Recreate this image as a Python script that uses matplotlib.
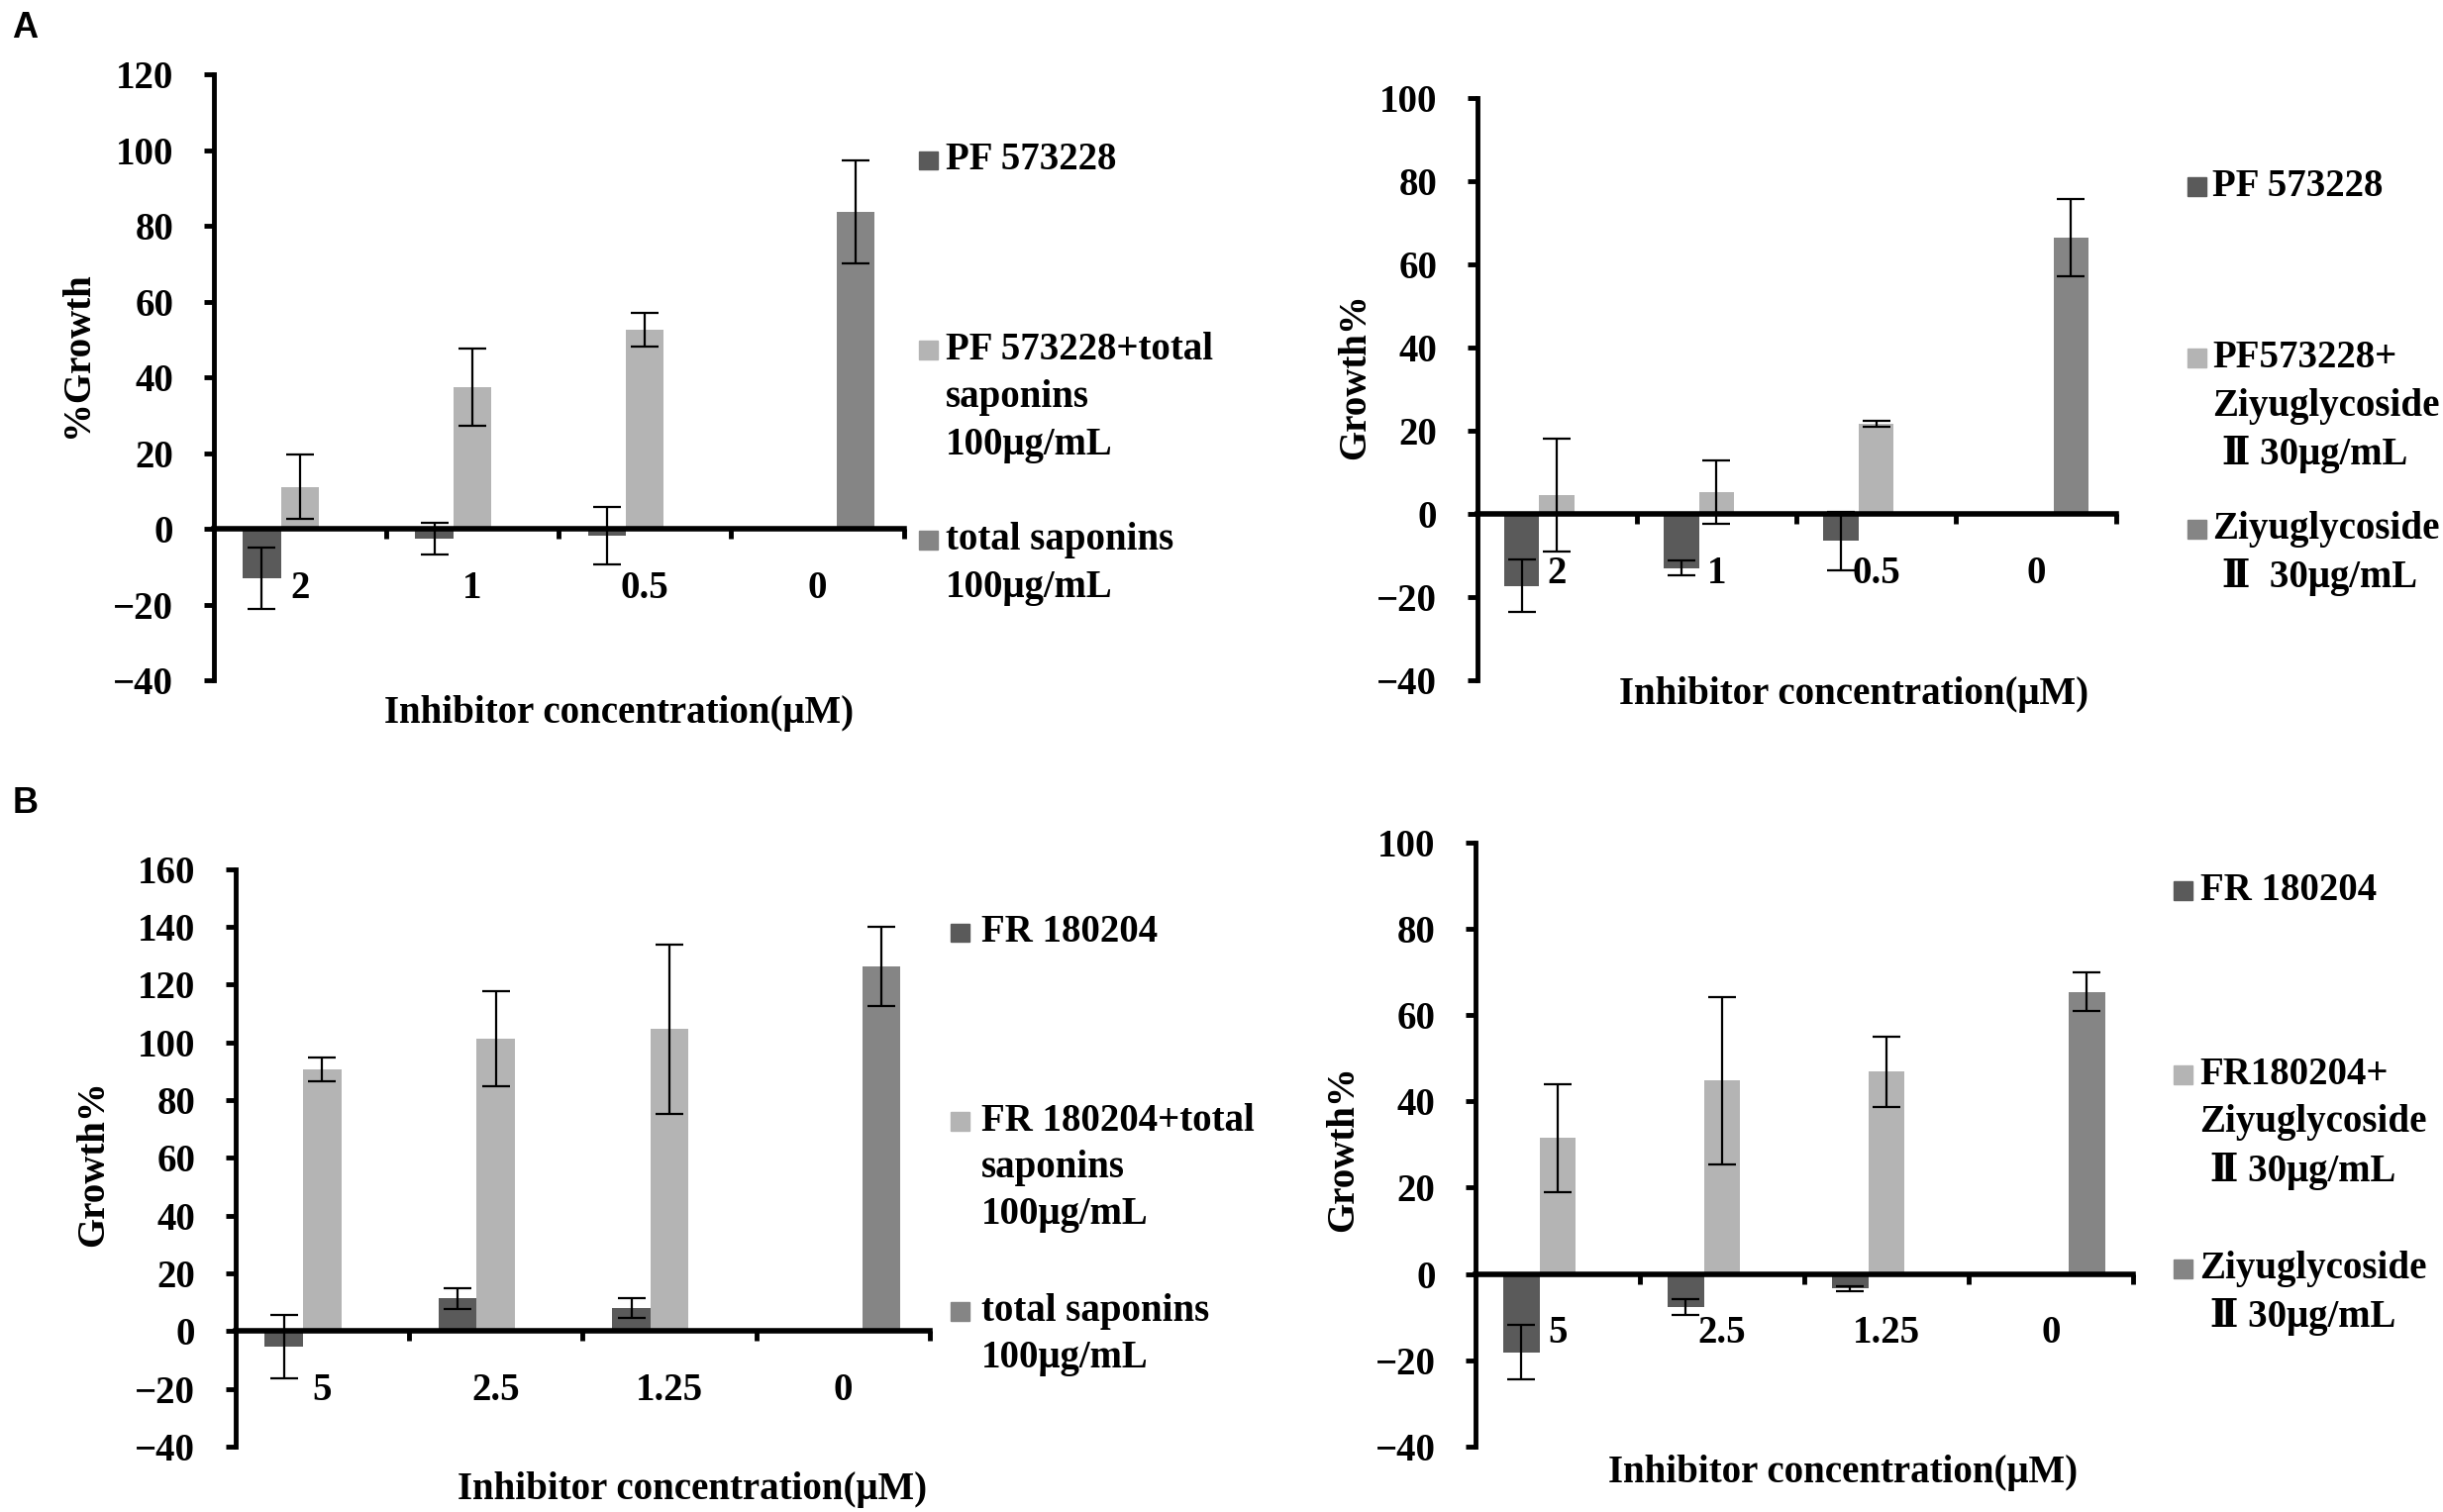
import numpy as np
import matplotlib.pyplot as plt
from matplotlib.patches import Rectangle

plt.rcParams['font.family'] = ['Liberation Serif', 'DejaVu Serif']
plt.rcParams['font.weight'] = 'bold'
plt.rcParams['font.size'] = 28

# layout was measured on a 1568 x 971 copy of the reference
W, H = 1568.0, 971.0

c_dark = '#5a5a5a'
c_light = '#b4b4b4'
c_mid = '#858585'

# ---- panel A, left (PF 573228 + total saponins)
a1_cats = ['2', '1', '0.5', '0']
a1_inh = [-13.0, -2.5, -1.8, np.nan]
a1_inh_err = [8.0, 4.2, 7.6, np.nan]
a1_mix = [11.1, 37.5, 52.6, np.nan]
a1_mix_err = [8.5, 10.2, 4.4, np.nan]
a1_drug = [np.nan, np.nan, np.nan, 83.8]
a1_drug_err = [np.nan, np.nan, np.nan, 13.5]

# ---- panel A, right (PF 573228 + Ziyuglycoside II)
a2_cats = ['2', '1', '0.5', '0']
a2_inh = [-17.3, -13.0, -6.5, np.nan]
a2_inh_err = [6.3, 1.8, 7.0, np.nan]
a2_mix = [4.6, 5.2, 21.8, np.nan]
a2_mix_err = [13.5, 7.6, 0.7, np.nan]
a2_drug = [np.nan, np.nan, np.nan, 66.4]
a2_drug_err = [np.nan, np.nan, np.nan, 9.3]

# ---- panel B, left (FR 180204 + total saponins)
b1_cats = ['5', '2.5', '1.25', '0']
b1_inh = [-5.5, 11.4, 7.9, np.nan]
b1_inh_err = [11.0, 3.6, 3.5, np.nan]
b1_mix = [90.6, 101.2, 104.6, np.nan]
b1_mix_err = [4.0, 16.6, 29.3, np.nan]
b1_drug = [np.nan, np.nan, np.nan, 126.2]
b1_drug_err = [np.nan, np.nan, np.nan, 13.6]

# ---- panel B, right (FR 180204 + Ziyuglycoside II)
b2_cats = ['5', '2.5', '1.25', '0']
b2_inh = [-18.1, -7.7, -3.4, np.nan]
b2_inh_err = [6.4, 1.8, 0.5, np.nan]
b2_mix = [31.5, 44.8, 46.9, np.nan]
b2_mix_err = [12.5, 19.4, 8.1, np.nan]
b2_drug = [np.nan, np.nan, np.nan, 65.4]
b2_drug_err = [np.nan, np.nan, np.nan, 4.5]

a1_legend = [['PF 573228'],
             ['PF 573228+total', 'saponins', '100μg/mL'],
             ['total saponins', '100μg/mL']]
a2_legend = [['PF 573228'],
             ['PF573228+', 'Ziyuglycoside', ' Ⅱ 30μg/mL'],
             ['Ziyuglycoside', ' Ⅱ  30μg/mL']]
b1_legend = [['FR 180204'],
             ['FR 180204+total', 'saponins', '100μg/mL'],
             ['total saponins', '100μg/mL']]
b2_legend = [['FR 180204'],
             ['FR180204+', 'Ziyuglycoside', ' Ⅱ 30μg/mL'],
             ['Ziyuglycoside', ' Ⅱ 30μg/mL']]


def fx(x):
    return x / W


def fy(y):
    return 1.0 - y / H


def draw_panel(fig, box, cats, series, errs, ylim, ylabel, ylab_pos,
               xlab_pos, legend, leg_sq_x, leg_txt_x, leg_y, leg_step):
    x0, y0, x1, y1 = box
    ax = fig.add_axes([fx(x0), fy(y1), fx(x1 - x0), (y1 - y0) / H])
    x = np.arange(len(cats))
    colors = [c_dark, c_light, c_mid]
    width = 0.22
    for i, (vals, err) in enumerate(zip(series, errs)):
        pos = x + (i - 1) * width
        ax.bar(pos, vals, width=width, color=colors[i], zorder=1)
        ax.errorbar(pos, vals, yerr=err, fmt='none', ecolor='black',
                    elinewidth=1.6, capsize=10, capthick=1.6, zorder=4)

    ax.set_xlim(-0.5, len(cats) - 0.5)
    ax.set_ylim(*ylim)
    ax.set_yticks(np.arange(ylim[0], ylim[1] + 1, 20))
    ax.spines['top'].set_visible(False)
    ax.spines['right'].set_visible(False)
    ax.spines['left'].set_linewidth(3.5)
    ax.spines['bottom'].set_linewidth(4.0)
    ax.spines['bottom'].set_position(('data', 0))
    ax.spines['bottom'].set_zorder(3)

    ax.set_xticks(x + 0.5)
    ax.set_xticklabels([])
    ax.set_xticks(x, minor=True)
    ax.set_xticklabels(cats, minor=True)
    ax.tick_params(axis='x', which='major', direction='out', length=7, width=3.5)
    ax.tick_params(axis='x', which='minor', length=0, pad=30, labelsize=28)
    ax.tick_params(axis='y', direction='out', length=7, width=3.5, pad=22,
                   labelsize=28)
    for lab in ax.get_yticklabels() + ax.get_xticklabels(minor=True):
        lab.set_family(['Liberation Serif', 'DejaVu Serif'])
        lab.set_fontweight('bold')

    fig.text(fx(ylab_pos[0]), fy(ylab_pos[1]), ylabel, rotation=90,
             ha='center', va='center', fontsize=28)
    fig.text(fx(xlab_pos[0]), fy(xlab_pos[1]), 'Inhibitor concentration(μM)',
             ha='center', va='center', fontsize=28)

    sq = 12.0
    for k, lines in enumerate(legend):
        y = leg_y[k]
        fig.add_artist(Rectangle((fx(leg_sq_x), fy(y + sq / 2)), sq / W, sq / H,
                                 transform=fig.transFigure, color=colors[k]))
        for j, line in enumerate(lines):
            fig.text(fx(leg_txt_x), fy(y + j * leg_step), line,
                     ha='left', va='center', fontsize=28)
    return ax


fig = plt.figure(figsize=(24.67, 15.27), dpi=100)

draw_panel(fig, (137, 48, 580, 437), a1_cats, [a1_inh, a1_mix, a1_drug],
           [a1_inh_err, a1_mix_err, a1_drug_err], (-40, 120), '%Growth',
           (50, 228), (397, 458), a1_legend, 590, 607, [103, 225, 347], 30.5)
draw_panel(fig, (948, 63, 1358, 437), a2_cats, [a2_inh, a2_mix, a2_drug],
           [a2_inh_err, a2_mix_err, a2_drug_err], (-40, 100), 'Growth%',
           (870, 242), (1190, 446), a2_legend, 1404, 1420, [120, 230, 340], 31)
draw_panel(fig, (151, 558, 597, 929), b1_cats, [b1_inh, b1_mix, b1_drug],
           [b1_inh_err, b1_mix_err, b1_drug_err], (-40, 160), 'Growth%',
           (60, 747), (444, 957), b1_legend, 610, 630, [599, 720, 842], 30)
draw_panel(fig, (947, 541, 1369, 929), b2_cats, [b2_inh, b2_mix, b2_drug],
           [b2_inh_err, b2_mix_err, b2_drug_err], (-40, 100), 'Growth%',
           (862, 738), (1183, 946), b2_legend, 1395, 1412, [572, 690, 815], 31)

fig.text(fx(8), fy(18), 'A', family='Liberation Sans', fontweight='bold',
         fontsize=26, ha='left', va='center')
fig.text(fx(8), fy(516), 'B', family='Liberation Sans', fontweight='bold',
         fontsize=26, ha='left', va='center')

fig.savefig('out.png', dpi=100, facecolor='white')
